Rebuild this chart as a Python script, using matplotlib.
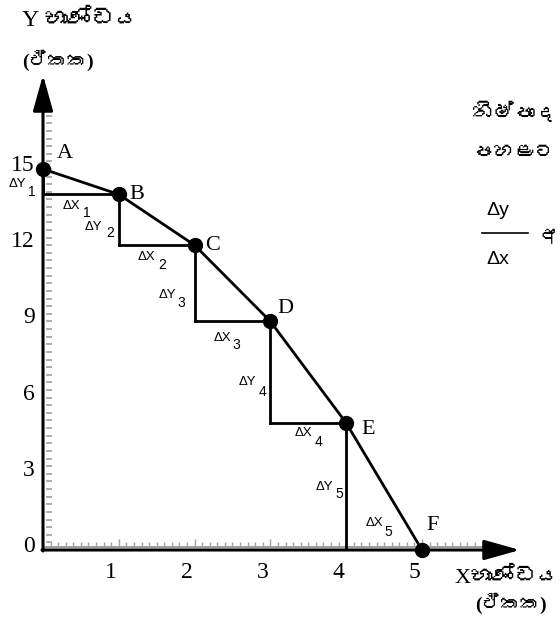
import numpy as np
import matplotlib.pyplot as plt
import matplotlib.transforms as mtransforms
from matplotlib import font_manager, ft2font

# නිෂ්පාදන හැකියා වක්‍රය - ලක්ෂ්‍ය
point_names = ['A', 'B', 'C', 'D', 'E', 'F']
x_goods = [0, 1, 2, 3, 4, 5]
y_goods = [15, 14, 12, 9, 5, 0]
x_ticks = [1, 2, 3, 4, 5]
y_ticks = [0, 3, 6, 9, 12, 15]

W, H = 560, 617
x0_px, y0_px = 43, 550      # origin in pixels
ux, uy = 75.8, 25.4         # pixels per unit

serif = 'Liberation Serif'
sans = 'Liberation Sans'

# look for any installed font that has Sinhala letters
sinh_fams = []
for f in font_manager.fontManager.ttflist:
    try:
        cmap = ft2font.FT2Font(f.fname).get_charmap()
        if 0x0D9A in cmap and 0x0DB4 in cmap and f.name not in sinh_fams:
            sinh_fams.append(f.name)
    except Exception:
        pass
sinhala = ['Liberation Serif'] + sinh_fams[:1] + ['DejaVu Sans']

fig = plt.figure(figsize=(W / 100, H / 100), dpi=100)
ax = fig.add_axes([x0_px / W, (H - y0_px) / H, 1 - x0_px / W, y0_px / H])
ax.set_xlim(0, (W - x0_px) / ux)
ax.set_ylim(0, y0_px / uy)
for s in ax.spines.values():
    s.set_visible(False)
ax.patch.set_alpha(0)

# tick labels
ax.set_xticks(x_ticks)
ax.set_xticklabels([str(v) for v in x_ticks], fontfamily=serif, fontsize=17)
ax.set_yticks(y_ticks)
ax.set_yticklabels([str(v) for v in y_ticks], fontfamily=serif, fontsize=17)
ax.tick_params(axis='x', length=0, pad=9)
ax.tick_params(axis='y', length=0, pad=6)
for lbl in ax.get_xticklabels():
    lbl.set_transform(lbl.get_transform() + mtransforms.ScaledTranslation(-0.08, 0, fig.dpi_scale_trans))
for lbl in ax.get_yticklabels():
    lbl.set_transform(lbl.get_transform() + mtransforms.ScaledTranslation(0, 0.06, fig.dpi_scale_trans))

gray = '#a0a0a0'
# gray scale marks along the axes
xg = np.arange(1, 60) / 10.0
gy = 3 / uy
ax.plot([0, 5.96], [gy, gy], color=gray, lw=1.5, solid_capstyle='butt')
short = [v for v in xg if abs(v - round(v)) > 1e-6]
longs = [v for v in xg if abs(v - round(v)) < 1e-6]
ax.vlines(short, gy, gy + 5 / uy, color=gray, lw=1)
ax.vlines(longs, gy, gy + 8 / uy, color=gray, lw=1)
yg = np.arange(1, 59) * 0.3
ax.hlines(yg, 3 / ux, 9 / ux, color=gray, lw=1.2)

# axes with arrows
arrow = dict(arrowstyle='-|>,head_length=1.0,head_width=0.28',
             lw=2.2, color='k', mutation_scale=22, shrinkA=0, shrinkB=0)
ax.annotate('', xy=(0, (y0_px - 75) / uy), xytext=(0, -1 / uy), arrowprops=arrow)
ax.annotate('', xy=((520 - x0_px) / ux, 0), xytext=(-1 / ux, 0), arrowprops=arrow)

# steps (ΔX, ΔY)
for i in range(len(x_goods) - 1):
    ax.plot([x_goods[i], x_goods[i]], [y_goods[i], y_goods[i + 1]], color='k', lw=2)
    ax.plot([x_goods[i], x_goods[i + 1]], [y_goods[i + 1], y_goods[i + 1]], color='k', lw=2)

# curve and points
ax.plot(x_goods, y_goods, color='k', lw=2, marker='o', ms=10, clip_on=False, zorder=5)

name_off = [(22, 15), (18, 0), (18, 0), (15, 13), (22, -6), (11, 24)]
for nm, xv, yv, off in zip(point_names, x_goods, y_goods, name_off):
    ax.annotate(nm, (xv, yv), xytext=off, textcoords='offset pixels',
                ha='center', va='center', fontfamily=serif, fontsize=16)

# ΔY / ΔX labels
dy_off = [((-26, -2), (-11, -10)), ((-25, -7), (-9, -13)), ((-27, -12), (-13, -20)),
          ((-23, -10), (-8, -20)), ((-22, -1), (-7, -7))]
dx_off = [((-9, -12), (6, -19)), ((-10, -12), (5, -20)), ((-10, -17), (4, -24)),
          ((-5, -10), (10, -19)), ((-10, 27), (4, 18))]
for i in range(len(x_goods) - 1):
    n = str(i + 1)
    mid_y = (x_goods[i], (y_goods[i] + y_goods[i + 1]) / 2)
    mid_x = ((x_goods[i] + x_goods[i + 1]) / 2, y_goods[i + 1])
    for mid, txt, (m, s) in [(mid_y, '\u0394Y', dy_off[i]), (mid_x, '\u0394X', dx_off[i])]:
        ax.annotate(txt, mid, xytext=m, textcoords='offset pixels', ha='center', va='center',
                    fontfamily=sans, fontsize=9.5)
        ax.annotate(n, mid, xytext=s, textcoords='offset pixels', ha='center', va='center',
                    fontfamily=sans, fontsize=10)

# axis titles and side text
def ftext(x, y, s, **kw):
    fig.text(x / W, 1 - y / H, s, **kw)

ftext(22, 20, 'Y භාණ්ඩය', ha='left', va='center', family=sinhala, fontsize=17)
ftext(22, 60, '(ඒකක)', ha='left', va='center', family=sinhala, fontsize=14, fontweight='bold')
ftext(455, 578, 'Xභාණ්ඩය', ha='left', va='center', family=sinhala, fontsize=16)
ftext(475, 603, '(ඒකක)', ha='left', va='center', family=sinhala, fontsize=14, fontweight='bold')
ftext(472, 113, 'නිෂ්පාද', ha='left', va='center', family=sinhala, fontsize=15)
ftext(472, 153, 'පහළට', ha='left', va='center', family=sinhala, fontsize=15)
ftext(498, 210, '\u0394y', ha='center', va='center', family=sans, fontsize=14)
ftext(498, 260, '\u0394x', ha='center', va='center', family=sans, fontsize=14)
fig.add_artist(plt.Line2D([482 / W, 528 / W], [1 - 233 / H, 1 - 233 / H], color='k', lw=1.2))
ftext(538, 237, 'අ', ha='left', va='center', family=sinhala, fontsize=14)

fig.savefig('out.png', dpi=100)
